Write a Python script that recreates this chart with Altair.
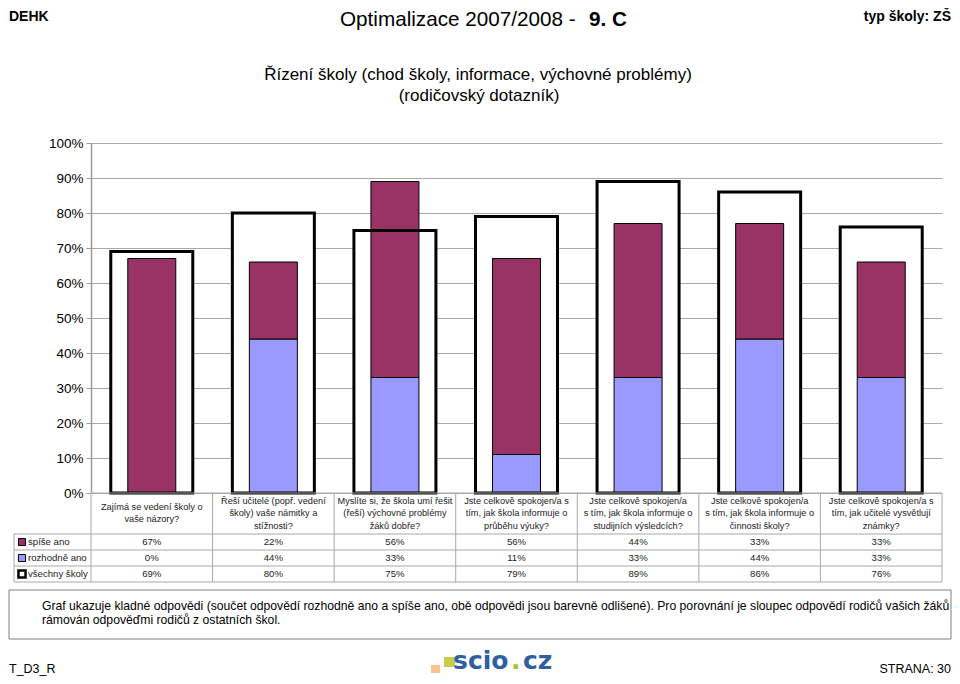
import altair as alt
import pandas as pd

# ---------------- data ----------------
cat_ids = ["q1", "q2", "q3", "q4", "q5", "q6", "q7"]
cat_lines = [
    ["Zajímá se vedení školy o", "vaše názory?"],
    ["Řeší učitelé (popř. vedení", "školy) vaše námitky a", "stížnosti?"],
    ["Myslíte si, že škola umí řešit", "(řeší) výchovné problémy", "žáků dobře?"],
    ["Jste celkově  spokojen/a s", "tím, jak škola informuje o", "průběhu výuky?"],
    ["Jste celkově  spokojen/a", "s tím, jak škola informuje o", "studijních výsledcích?"],
    ["Jste celkově  spokojen/a", "s tím, jak škola informuje o", "činnosti školy?"],
    ["Jste celkově  spokojen/a s", "tím, jak učitelé vysvětlují", "známky?"],
]
spise_ano = [67, 22, 56, 56, 44, 33, 33]
rozhodne_ano = [0, 44, 33, 11, 33, 44, 33]
vsechny_skoly = [69, 80, 75, 79, 89, 86, 76]
row_labels = ["spíše ano", "rozhodně ano", "všechny školy"]
y_ticks = [0, 10, 20, 30, 40, 50, 60, 70, 80, 90, 100]

header_left = "DEHK"
header_title = "Optimalizace 2007/2008 - "
header_class = "9. C"
header_right = "typ školy: ZŠ"
subtitle_lines = ["Řízení školy (chod školy, informace, výchovné problémy)", "(rodičovský dotazník)"]
note_lines = [
    "Graf ukazuje kladné odpovědi (součet odpovědí rozhodně ano a spíše ano, obě odpovědi jsou barevně odlišené). Pro porovnání je sloupec odpovědí rodičů vašich žáků",
    "rámován odpověďmi rodičů z ostatních škol.",
]
footer_left = "T_D3_R"
footer_right = "STRANA: 30"

# ---------------- layout helpers (reference page px -> plot px) ----------------
X0, Y0 = 91, 143
def px(x):
    return x - X0
def py(y):
    return y - Y0

FONT = "Liberation Sans, Arial, sans-serif"
MAROON = "#993366"
BLUE = "#9999FF"
LINE = "#a8a8a8"

# ---------------- tables ----------------
bars_df = pd.DataFrame(
    [{"cat": c, "series": "rozhodně ano", "value": r, "ord": 0} for c, r in zip(cat_ids, rozhodne_ano)]
    + [{"cat": c, "series": "spíše ano", "value": s, "ord": 1} for c, s in zip(cat_ids, spise_ano)]
)
frame_df = pd.DataFrame({"cat": cat_ids, "value": vsechny_skoly})

lab_rows = []
for c, lines in zip(cat_ids, cat_lines):
    n = len(lines)
    for i, t in enumerate(lines):
        lab_rows.append({"cat": c, "text": t, "py": py(513 + (i - (n - 1) / 2) * 12.5)})
labels_df = pd.DataFrame(lab_rows)

row_y = [542, 558, 574]
table_rows = []
for ri, vals in enumerate([spise_ano, rozhodne_ano, vsechny_skoly]):
    for c, v in zip(cat_ids, vals):
        table_rows.append({"cat": c, "text": f"{v}%", "py": py(row_y[ri])})
table_df = pd.DataFrame(table_rows)

rowlab_df = pd.DataFrame({
    "text": row_labels,
    "py": [py(y) for y in row_y],
    "fill": [MAROON, BLUE, "white"],
    "sw": [1, 1, 2.5],
})

hlines_df = pd.DataFrame({
    "y": [py(v) for v in [493, 534, 550, 566, 582]],
    "x1": [px(91), px(14), px(14), px(14), px(14)],
    "x2": [px(942)] * 5,
})
vlines_df = pd.DataFrame({
    "x": [px(14), px(942)],
    "y1": [py(534), py(493)],
    "y2": [py(582), py(582)],
})

# ---------------- encodings ----------------
xscale = alt.Scale(domain=cat_ids, paddingInner=0, paddingOuter=0)
xenc = alt.X("cat:N", scale=xscale, axis=None, sort=cat_ids)
yscale = alt.Scale(domain=[0, 100], nice=False, zero=True)
yaxis = alt.Axis(
    values=y_ticks, labelExpr="datum.value + '%'", title=None, grid=True,
    gridColor=LINE, gridWidth=1, domainColor="#9a9a9a", domainWidth=1.5,
    tickColor="#9a9a9a", tickSize=5, labelFontSize=13.5, labelFont=FONT,
    labelColor="black", labelPadding=3,
)

frame_fill = alt.Chart(frame_df).mark_bar(size=82, fill="white", strokeWidth=0).encode(
    x=xenc, y=alt.Y("value:Q", scale=yscale, axis=yaxis)
)
bars = alt.Chart(bars_df).mark_bar(size=48, stroke="black", strokeWidth=1).encode(
    x=xenc,
    y=alt.Y("value:Q", stack="zero", scale=yscale, axis=yaxis),
    color=alt.Color("series:N", scale=alt.Scale(domain=["rozhodně ano", "spíše ano"], range=[BLUE, MAROON]), legend=None),
    order=alt.Order("ord:Q"),
)
frame_line = alt.Chart(frame_df).mark_bar(size=82, fill="transparent", stroke="black", strokeWidth=3).encode(
    x=xenc, y=alt.Y("value:Q", scale=yscale, axis=yaxis)
)

hlines = alt.Chart(hlines_df).mark_rule(color=LINE, strokeWidth=1).encode(
    x=alt.X("x1:Q", scale=None, axis=None), x2="x2:Q", y=alt.Y("y:Q", scale=None, axis=None)
)
vlines_cat = alt.Chart(frame_df).mark_rule(color=LINE, strokeWidth=1).encode(
    x=alt.X("cat:N", scale=xscale, axis=None, sort=cat_ids, bandPosition=0),
    y=alt.value(py(493)), y2=alt.value(py(582)),
)
vlines = alt.Chart(vlines_df).mark_rule(color=LINE, strokeWidth=1).encode(
    x=alt.X("x:Q", scale=None, axis=None), y=alt.Y("y1:Q", scale=None, axis=None), y2="y2:Q"
)

cat_text = alt.Chart(labels_df).mark_text(font=FONT, fontSize=9.2, color="#222", baseline="middle").encode(
    x=xenc, y=alt.Y("py:Q", scale=None, axis=None), text="text:N"
)
val_text = alt.Chart(table_df).mark_text(font=FONT, fontSize=9.6, color="#222", baseline="middle").encode(
    x=xenc, y=alt.Y("py:Q", scale=None, axis=None), text="text:N"
)
row_text = alt.Chart(rowlab_df).mark_text(font=FONT, fontSize=9.6, color="#222", baseline="middle", align="left").encode(
    x=alt.value(px(28)), y=alt.Y("py:Q", scale=None, axis=None), text="text:N"
)
row_sym = alt.Chart(rowlab_df).mark_point(shape="square", filled=True, size=50, stroke="black", opacity=1).encode(
    x=alt.value(px(22)), y=alt.Y("py:Q", scale=None, axis=None),
    fill=alt.Fill("fill:N", scale=None), strokeWidth=alt.StrokeWidth("sw:Q", scale=None),
)

# ---------------- page texts ----------------
one = pd.DataFrame({"k": [0]})
def txt(s, x, y, size, font=FONT, weight="normal", align="left", color="black", baseline="middle"):
    return alt.Chart(pd.DataFrame({"t": [s]})).mark_text(
        font=font, fontSize=size, fontWeight=weight, align=align, color=color, baseline=baseline
    ).encode(x=alt.value(px(x)), y=alt.value(py(y)), text="t:N")

page = [
    txt(header_left, 9, 21, 14, weight="bold", baseline="alphabetic"),
    txt(header_title, 340, 26, 20.7, baseline="alphabetic"),
    txt(header_class, 589, 26, 20.7, weight="bold", baseline="alphabetic"),
    txt(header_right, 951, 21, 14, weight="bold", align="right", baseline="alphabetic"),
    txt(subtitle_lines[0], 478, 75, 17, align="center"),
    txt(subtitle_lines[1], 479, 96, 17, align="center"),
    txt(note_lines[0], 42, 606, 12.2),
    txt(note_lines[1], 42, 620, 12.2),
    txt(footer_left, 9, 673, 12.5, baseline="alphabetic"),
    txt(footer_right, 951, 673, 12.5, align="right", baseline="alphabetic"),
]

note_box = alt.Chart(one).mark_rect(fill="transparent", stroke="#7f7f7f", strokeWidth=1).encode(
    x=alt.value(px(9)), x2=alt.value(px(951)), y=alt.value(py(590)), y2=alt.value(py(639))
)

logo = [
    alt.Chart(one).mark_rect(color="#f9c48f").encode(x=alt.value(px(431)), x2=alt.value(px(440)), y=alt.value(py(665)), y2=alt.value(py(673))),
    alt.Chart(one).mark_rect(color="#c3cf4a").encode(x=alt.value(px(444)), x2=alt.value(px(455)), y=alt.value(py(657)), y2=alt.value(py(667))),
    txt("scio", 453, 674, 25, font="DejaVu Sans", weight="bold", color="#2f5f9f", baseline="bottom"),
    txt(".", 511, 674, 25, font="DejaVu Sans", weight="bold", color="#a5c232", baseline="bottom"),
    txt("cz", 523, 674, 25, font="DejaVu Sans", weight="bold", color="#2f5f9f", baseline="bottom"),
]

chart = alt.layer(
    frame_fill, bars, frame_line,
    hlines, vlines_cat, vlines,
    cat_text, val_text, row_text, row_sym,
    note_box, *page, *logo,
).properties(
    width=851, height=350,
    autosize=alt.AutoSizeParams(type="none"),
    padding={"left": 83, "top": 135, "right": 10, "bottom": 183},
    background="white",
).configure_view(stroke=None)

chart.save("out.html", embed_options={"renderer": "svg", "actions": False})
